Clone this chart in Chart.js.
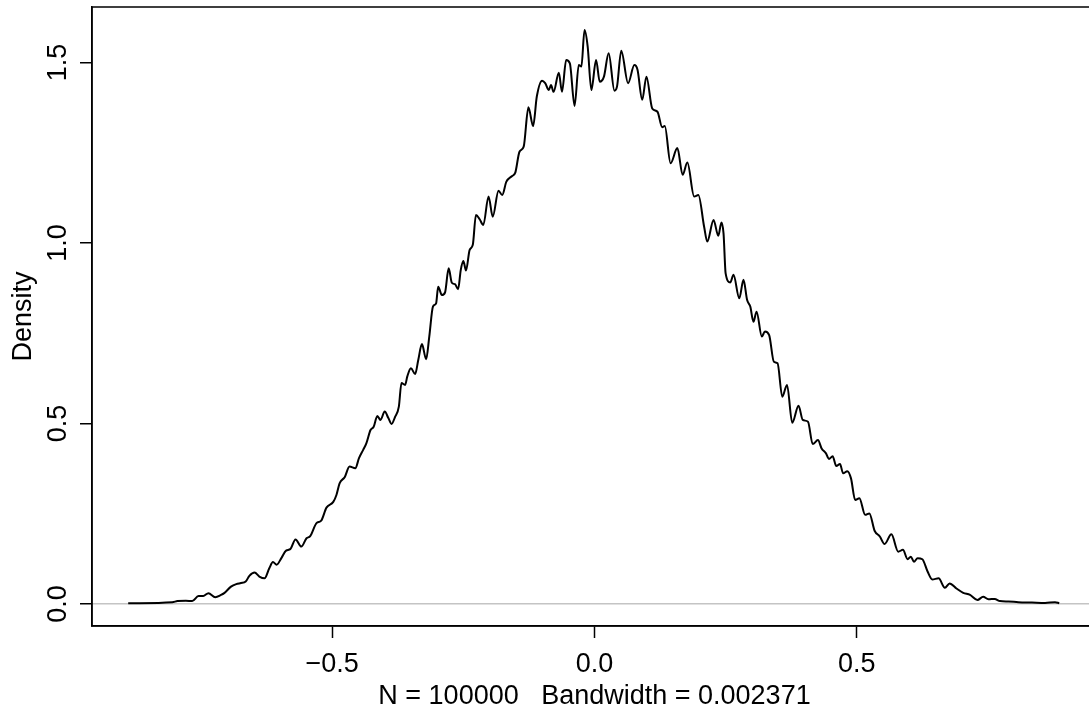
<!DOCTYPE html>
<html>
<head>
<meta charset="utf-8">
<script src="https://cdn.jsdelivr.net/npm/chart.js@4/dist/chart.umd.min.js"></script>
<style>
  html, body { margin: 0; padding: 0; background: #fff; overflow: hidden; }
  canvas { display: block; }
</style>
</head>
<body>
<!-- the R plot box runs a few pixels past the right edge of the window -->
<canvas id="chart" width="1097" height="713"></canvas>
<script>
// Density estimate
const xVals = [
  -0.889, -0.805, -0.795, -0.779, -0.767, -0.755, -0.746, -0.736, -0.723, -0.712,
  -0.706, -0.693, -0.683, -0.674, -0.665, -0.658, -0.648, -0.639, -0.629, -0.620,
  -0.613, -0.606, -0.597, -0.588, -0.580, -0.570, -0.559, -0.549, -0.542, -0.530,
  -0.521, -0.511, -0.498, -0.492, -0.486, -0.476, -0.467, -0.456, -0.449,
  -0.441, -0.435, -0.427, -0.421, -0.414, -0.408, -0.400, -0.393, -0.387, -0.380,
  -0.373, -0.368, -0.361, -0.357, -0.350, -0.342, -0.336, -0.329, -0.321, -0.315,
  -0.308, -0.302, -0.298, -0.291, -0.285, -0.278, -0.272, -0.266, -0.260, -0.255,
  -0.250, -0.245, -0.238, -0.232, -0.226, -0.219, -0.212, -0.202, -0.194, -0.183,
  -0.176, -0.168, -0.157, -0.151, -0.143, -0.135, -0.126, -0.117, -0.110, -0.100,
  -0.094, -0.087, -0.083, -0.078, -0.068, -0.062, -0.054, -0.047, -0.038, -0.030,
  -0.025, -0.019, -0.013, -0.006, 0.003, 0.010, 0.018, 0.027, 0.038, 0.043,
  0.051, 0.064, 0.076, 0.082, 0.091, 0.099, 0.110, 0.120, 0.129, 0.134,
  0.145, 0.158, 0.168, 0.177, 0.190, 0.198, 0.209, 0.215, 0.227, 0.236,
  0.242, 0.246, 0.250, 0.259, 0.265, 0.276, 0.284, 0.291, 0.297, 0.303,
  0.309, 0.319, 0.325, 0.333, 0.342, 0.349, 0.358, 0.367, 0.377, 0.389,
  0.397, 0.407, 0.416, 0.426, 0.433, 0.441, 0.447, 0.454, 0.461, 0.468, 0.474, 0.482, 0.489, 0.497,
  0.505, 0.516, 0.524, 0.534, 0.544, 0.553, 0.566, 0.579, 0.588, 0.597,
  0.603, 0.609, 0.616, 0.625, 0.635, 0.644, 0.656, 0.668, 0.677, 0.690,
  0.703, 0.716, 0.730, 0.741, 0.751, 0.763, 0.773, 0.789, 0.808, 0.834,
  0.859, 0.878, 0.886
];
const densityVals = [
  0.002, 0.005, 0.008, 0.009, 0.008, 0.022, 0.022, 0.030, 0.019, 0.025,
  0.030, 0.048, 0.055, 0.058, 0.062, 0.078, 0.087, 0.076, 0.071, 0.099,
  0.116, 0.109, 0.127, 0.148, 0.152, 0.179, 0.159, 0.182, 0.188, 0.224,
  0.231, 0.267, 0.283, 0.302, 0.334, 0.352, 0.381, 0.376, 0.404,
  0.427, 0.445, 0.482, 0.491, 0.521, 0.510, 0.533, 0.515, 0.499, 0.519,
  0.547, 0.612, 0.607, 0.630, 0.653, 0.637, 0.676, 0.720, 0.678, 0.741,
  0.824, 0.833, 0.879, 0.856, 0.863, 0.930, 0.890, 0.886, 0.872, 0.925,
  0.950, 0.924, 0.981, 0.995, 1.078, 1.066, 1.050, 1.129, 1.073, 1.145,
  1.133, 1.170, 1.186, 1.195, 1.253, 1.267, 1.376, 1.324, 1.406, 1.450,
  1.443, 1.424, 1.438, 1.419, 1.472, 1.419, 1.507, 1.498, 1.380, 1.493,
  1.489, 1.590, 1.544, 1.424, 1.507, 1.447, 1.461, 1.526, 1.422, 1.434,
  1.533, 1.443, 1.493, 1.480, 1.397, 1.461, 1.373, 1.364, 1.321, 1.324,
  1.221, 1.263, 1.189, 1.223, 1.129, 1.133, 1.045, 1.004, 1.064, 1.020,
  1.057, 1.027, 0.916, 0.891, 0.912, 0.847, 0.898, 0.842, 0.824, 0.782,
  0.810, 0.741, 0.755, 0.745, 0.671, 0.667, 0.574, 0.607, 0.502, 0.549,
  0.510, 0.505, 0.443, 0.454, 0.431, 0.418, 0.402, 0.409, 0.382, 0.388, 0.362, 0.368, 0.348, 0.288,
  0.293, 0.247, 0.251, 0.203, 0.187, 0.166, 0.193, 0.145, 0.150, 0.124,
  0.131, 0.117, 0.127, 0.124, 0.090, 0.068, 0.071, 0.045, 0.057, 0.043,
  0.031, 0.025, 0.011, 0.020, 0.013, 0.014, 0.008, 0.007, 0.005, 0.004,
  0.003, 0.005, 0.002
];

const xTicks = [-0.5, 0, 0.5];
const xTickLabels = ['\u22120.5', '0.0', '0.5'];
const yTicks = [0, 0.5, 1, 1.5];
const yTickLabels = ['0.0', '0.5', '1.0', '1.5'];

const xTitle = 'N = 100000   Bandwidth = 0.002371';
const yTitle = 'Density';

Chart.defaults.font.family = '"Liberation Sans", Arial, Helvetica, sans-serif';
Chart.defaults.font.size = 27;
Chart.defaults.color = '#000';

// R style box and rotated y labels
const rFrame = {
  id: 'rFrame',
  afterDraw(chart) {
    const { ctx, chartArea, scales } = chart;
    ctx.save();
    ctx.strokeStyle = '#000';
    ctx.lineWidth = 1.5;
    ctx.strokeRect(chartArea.left, chartArea.top,
      chartArea.right - chartArea.left, chartArea.bottom - chartArea.top);

    ctx.fillStyle = '#000';
    ctx.font = '27px "Liberation Sans", Arial, sans-serif';
    ctx.textAlign = 'center';
    ctx.textBaseline = 'middle';
    yTicks.forEach((v, i) => {
      const y = scales.y.getPixelForValue(v);
      ctx.save();
      ctx.translate(59, y);
      ctx.rotate(-Math.PI / 2);
      ctx.fillText(yTickLabels[i], 0, 0);
      ctx.restore();
    });
    ctx.restore();
  }
};

const points = xVals.map((x, i) => ({ x: x, y: densityVals[i] }));

const chart = new Chart(document.getElementById('chart'), {
  type: 'line',
  data: {
    datasets: [{
      data: points,
      borderColor: '#000',
      borderWidth: 2,
      pointRadius: 0,
      fill: false,
      cubicInterpolationMode: 'monotone'
    }]
  },
  options: {
    responsive: false,
    animation: false,
    devicePixelRatio: 1,
    layout: { padding: { top: 7, right: 0, left: 0, bottom: 0 } },
    plugins: { legend: { display: false }, tooltip: { enabled: false } },
    scales: {
      x: {
        type: 'linear',
        min: -0.958,
        max: 0.958,
        afterFit: (scale) => { scale.height = 87; },
        afterBuildTicks: (scale) => { scale.ticks = xTicks.map(v => ({ value: v })); },
        ticks: {
          padding: 10,
          maxRotation: 0,
          callback: (value) => xTickLabels[xTicks.indexOf(value)]
        },
        grid: {
          drawOnChartArea: false,
          tickLength: 12,
          tickColor: '#000',
          tickWidth: 1.5
        },
        border: { display: true, color: '#000', width: 1.5 },
        title: { display: true, text: xTitle, padding: 0 }
      },
      y: {
        type: 'linear',
        min: -0.061,
        max: 1.654,
        afterFit: (scale) => { scale.width = 92; },
        afterBuildTicks: (scale) => { scale.ticks = yTicks.map(v => ({ value: v })); },
        ticks: { display: false },
        grid: {
          drawOnChartArea: true,
          color: (ctx) => (ctx.tick && ctx.tick.value === 0 ? '#c4c4c4' : 'rgba(0,0,0,0)'),
          lineWidth: 1.5,
          tickLength: 12,
          tickColor: '#000',
          tickWidth: 1.5
        },
        border: { display: true, color: '#000', width: 1.5 },
        title: { display: true, text: yTitle, padding: { top: 7, bottom: 0 } }
      }
    }
  },
  plugins: [rFrame]
});
</script>
</body>
</html>
